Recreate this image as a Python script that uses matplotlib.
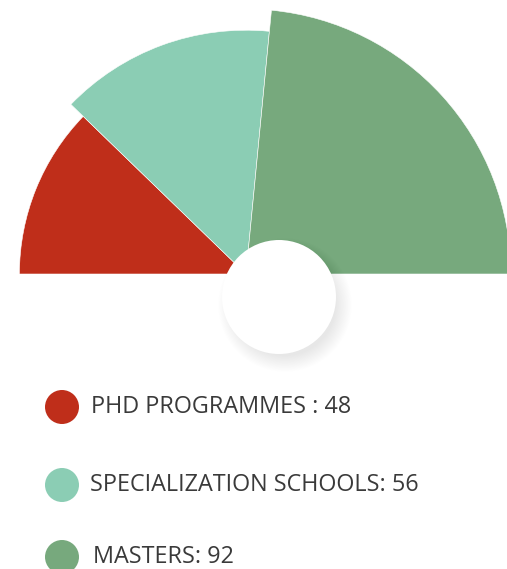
import matplotlib
matplotlib.use("Agg")
import matplotlib.pyplot as plt
from matplotlib.patches import Wedge, Circle

# data
labels = ["PHD PROGRAMMES ", "SPECIALIZATION SCHOOLS", "MASTERS"]
values = [48, 56, 92]
colors = ["#BF2E1A", "#8BCDB4", "#77A97D"]
radius_scale = [0.855, 0.92, 1.0]   # relative wedge lengths as drawn

W, H = 507, 569
fig = plt.figure(figsize=(W / 100, H / 100), dpi=100)
ax = fig.add_axes([0, 0, 1, 1])
ax.set_xlim(0, W)
ax.set_ylim(0, H)
ax.set_aspect("equal")
ax.axis("off")

# half rose, filled from the left (180 deg) to the right (0 deg)
cx, cy = 246, H - 274
rmax = 265
total = sum(values)
start = 180.0
for v, c, s in zip(values, colors, radius_scale):
    span = 180.0 * v / total
    ax.add_patch(Wedge((cx, cy), rmax * s, start - span, start, facecolor=c,
                       edgecolor="white", linewidth=0.4))
    start -= span

# white disc with soft drop shadow
hx, hy, hr = 279, H - 297, 57
for i in range(24):
    ax.add_patch(Circle((hx + 6, hy - 8), hr + 10 - i * 0.7, facecolor="black",
                        alpha=0.0055, edgecolor="none"))
ax.add_patch(Circle((hx, hy), hr, facecolor="white", edgecolor="none"))

# legend
leg_y = [407, 485, 557]
text_x = [91, 90, 93]
for lab, v, c, y, tx in zip(labels, values, colors, leg_y, text_x):
    ax.add_patch(Circle((62, H - y), 17, facecolor=c, edgecolor="none"))
    ax.text(tx, H - y, f"{lab}: {v}", fontsize=16.8, color="#3a3a3a",
            family="Open Sans", va="center", ha="left")

fig.savefig("out.png", dpi=100)
